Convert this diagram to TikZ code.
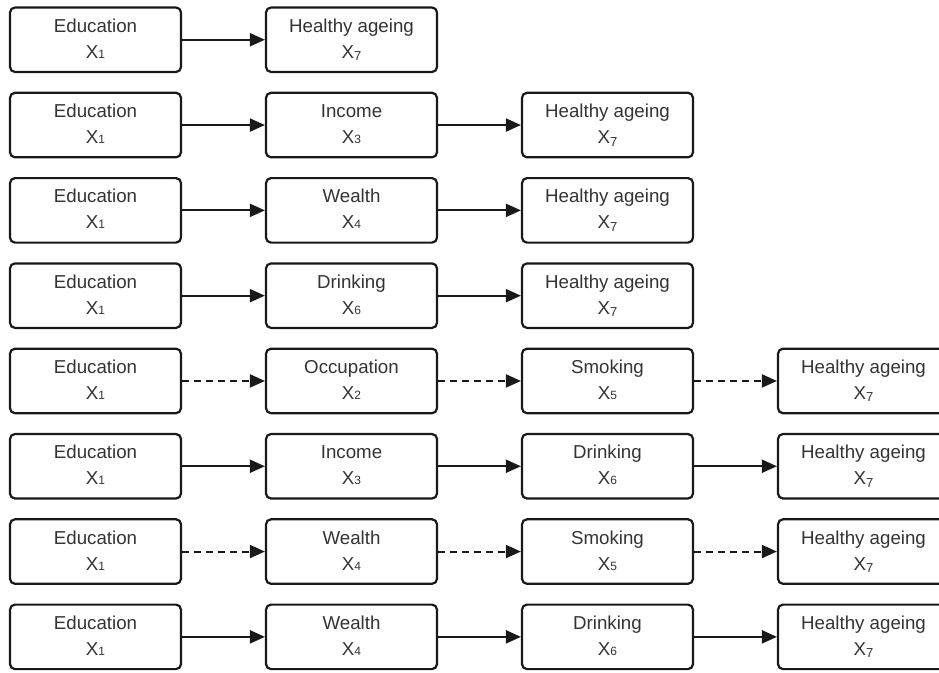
\documentclass[tikz,border=0pt]{standalone}
\usepackage{fontspec}
\setmainfont{Liberation Sans}
\usetikzlibrary{arrows.meta}

% variable labels: small index on the baseline, or a lowered subscript
\newcommand{\xn}[1]{X{\fontsize{12}{12}\selectfont #1}}
\newcommand{\xsub}[1]{X\raisebox{-2.5pt}{\fontsize{13}{13}\selectfont #1}}

\tikzset{
  stage/.style={draw=black!90, line width=2.2pt, rounded corners=5pt,
    minimum width=171pt, minimum height=64.5pt, inner sep=0pt},
  lbl/.style={anchor=base, inner sep=0pt, text=black!80,
    font=\fontsize{18.7}{22}\selectfont},
  link/.style={line width=2pt, draw=black!90,
    -{Triangle[length=15pt,width=13pt]}},
  weak/.style={link, dash pattern=on 7pt off 5pt},
}

% \stagebox{name}{column}{row}{first line}{second line}
\newcommand{\stagebox}[5]{%
  \node[stage] (#1) at ({95.5+256*#2},{39.75+85.3*#3}) {};
  \node[lbl] (#1-t) at ([yshift=7.5pt]#1.center) {#4};
  \node[lbl] (#1-v) at ([yshift=-18.5pt]#1.center) {#5};
}

\begin{document}
\begin{tikzpicture}[x=1pt, y=-1pt]
  \useasboundingbox (0,0) rectangle (939,672);
  \clip (0,0) rectangle (939,672);

  % row 0
  \stagebox{a0}{0}{0}{Education}{\xn{1}}
  \stagebox{b0}{1}{0}{Healthy ageing}{\xsub{7}}
  \draw[link] (a0) -- (b0);

  % row 1
  \stagebox{a1}{0}{1}{Education}{\xn{1}}
  \stagebox{b1}{1}{1}{Income}{\xn{3}}
  \stagebox{c1}{2}{1}{Healthy ageing}{\xsub{7}}
  \draw[link] (a1) -- (b1);
  \draw[link] (b1) -- (c1);

  % row 2
  \stagebox{a2}{0}{2}{Education}{\xn{1}}
  \stagebox{b2}{1}{2}{Wealth}{\xn{4}}
  \stagebox{c2}{2}{2}{Healthy ageing}{\xsub{7}}
  \draw[link] (a2) -- (b2);
  \draw[link] (b2) -- (c2);

  % row 3
  \stagebox{a3}{0}{3}{Education}{\xn{1}}
  \stagebox{b3}{1}{3}{Drinking}{\xn{6}}
  \stagebox{c3}{2}{3}{Healthy ageing}{\xsub{7}}
  \draw[link] (a3) -- (b3);
  \draw[link] (b3) -- (c3);

  % row 4
  \stagebox{a4}{0}{4}{Education}{\xn{1}}
  \stagebox{b4}{1}{4}{Occupation}{\xn{2}}
  \stagebox{c4}{2}{4}{Smoking}{\xn{5}}
  \stagebox{d4}{3}{4}{Healthy ageing}{\xsub{7}}
  \draw[weak] (a4) -- (b4);
  \draw[weak] (b4) -- (c4);
  \draw[weak] (c4) -- (d4);

  % row 5
  \stagebox{a5}{0}{5}{Education}{\xn{1}}
  \stagebox{b5}{1}{5}{Income}{\xn{3}}
  \stagebox{c5}{2}{5}{Drinking}{\xn{6}}
  \stagebox{d5}{3}{5}{Healthy ageing}{\xsub{7}}
  \draw[link] (a5) -- (b5);
  \draw[link] (b5) -- (c5);
  \draw[link] (c5) -- (d5);

  % row 6
  \stagebox{a6}{0}{6}{Education}{\xn{1}}
  \stagebox{b6}{1}{6}{Wealth}{\xn{4}}
  \stagebox{c6}{2}{6}{Smoking}{\xn{5}}
  \stagebox{d6}{3}{6}{Healthy ageing}{\xsub{7}}
  \draw[weak] (a6) -- (b6);
  \draw[weak] (b6) -- (c6);
  \draw[weak] (c6) -- (d6);

  % row 7
  \stagebox{a7}{0}{7}{Education}{\xn{1}}
  \stagebox{b7}{1}{7}{Wealth}{\xn{4}}
  \stagebox{c7}{2}{7}{Drinking}{\xn{6}}
  \stagebox{d7}{3}{7}{Healthy ageing}{\xsub{7}}
  \draw[link] (a7) -- (b7);
  \draw[link] (b7) -- (c7);
  \draw[link] (c7) -- (d7);
\end{tikzpicture}
\end{document}
